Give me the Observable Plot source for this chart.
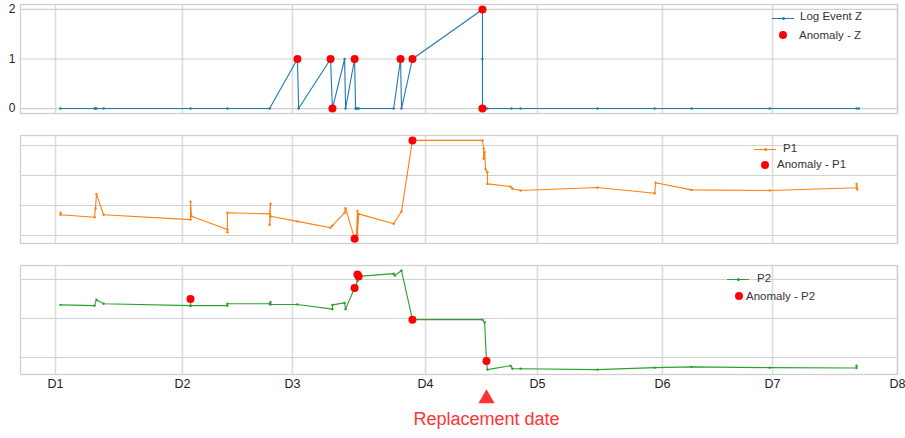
<!DOCTYPE html>
<html><head><meta charset="utf-8">
<script src="https://cdn.jsdelivr.net/npm/d3@7"></script>
<script src="https://cdn.jsdelivr.net/npm/@observablehq/plot@0.6"></script>
<style>
body{margin:0;background:#fff;font-family:"Liberation Sans",Arial,sans-serif;}
#wrap{position:relative;width:905px;height:438px;}
#wrap svg{display:block}
.lg{position:absolute;font-size:11.5px;color:#333;white-space:nowrap;line-height:12px;}
.sw{position:absolute;height:1.3px;}
.sw i{position:absolute;left:50%;top:-1px;width:3px;height:3px;margin-left:-1.5px;border-radius:50%;}
.ad{position:absolute;width:8px;height:8px;border-radius:50%;background:red;}
</style></head><body><div id="wrap"></div>
<script>
// x positions are in "days" from D1
const tickT = [0, 4.06, 7.58, 11.84, 15.42, 19.42, 22.94, 26.94];
const tickLabels = ["D1","D2","D3","D4","D5","D6","D7","D8"];
const replacementT = 13.79;

// Log Event Z
const zT = [0.16,1.25,1.28,1.31,1.54,4.32,5.50,6.85,7.74,7.78,8.80,8.86,9.25,9.28,9.57,9.60,9.63,9.66,9.70,10.82,11.04,11.07,11.42,13.66,13.66,13.66,13.82,14.59,14.88,17.34,19.17,20.35,22.85,25.63,25.70];
const zV = [0,0,0,0,0,0,0,0,1,0,1,0,1,0,1,0,0,0,0,0,1,0,1,2,1,0,0,0,0,0,0,0,0,0,0];
const zAnomT = [7.74,8.80,8.86,9.57,11.04,11.42,13.66,13.66];
const zAnomV = [1,1,0,1,1,1,2,0];

// P1
const p1T = [0.16,0.16,1.25,1.28,1.31,1.54,4.32,4.32,4.35,5.50,5.50,5.50,6.85,6.88,6.85,6.88,7.74,8.80,8.86,9.25,9.28,9.57,9.63,9.66,9.66,9.70,10.82,11.07,11.42,13.66,13.70,13.70,13.73,13.76,13.82,13.82,14.56,14.62,14.88,17.34,19.17,19.20,20.35,22.85,25.63,25.63,25.66];
const p1V = [7.6,6.9,6.1,9.1,13.8,6.9,5.3,11.3,6.4,2.0,1.1,7.6,7.2,10.6,3.6,6.4,4.7,2.6,3.3,7.6,9.1,-1.1,0.2,8.2,0.3,7.2,3.9,8.0,31.7,31.7,28.9,25.6,27.8,22.0,21.1,17.2,16.3,15.6,15.0,16.0,14.1,17.6,15.2,15.0,15.9,17.2,15.3];
const p1AnomT = [9.57,11.42];
const p1AnomV = [-1.1,31.7];

// P2
const p2T = [0.16,1.25,1.31,1.54,4.32,4.32,4.32,5.50,5.50,6.85,6.88,6.88,7.74,8.86,8.86,9.25,9.28,9.57,9.66,9.66,9.70,10.82,10.86,11.07,11.42,13.66,13.73,13.79,13.82,14.56,14.62,14.88,17.34,19.17,20.35,22.85,25.63,25.63];
const p2V = [13.5,13.3,14.8,13.8,13.3,14.6,13.3,13.3,13.8,13.8,14.2,13.6,13.6,12.4,13.5,14.0,12.4,17.8,19.6,21.3,20.8,21.5,21.0,22.3,9.7,9.7,9.0,-0.9,-3.1,-2.1,-2.9,-2.9,-3.1,-2.6,-2.4,-2.6,-2.7,-2.1];
const p2AnomT = [4.32,9.57,9.66,9.70,11.42,13.79];
const p2AnomV = [15.0,17.8,21.3,20.8,9.7,-0.9];

const zip = (t, v) => t.map((d, i) => ({t: d, v: v[i]}));

const panels = [
  {height:120, mt:4, mb:7, dom:[-0.1,2.1], grid:[0,1,2], labels:true, s:zip(zT,zV), a:zip(zAnomT,zAnomV), color:"#1f77b4", xAxis:false,
   name:"Log Event Z", anom:"Anomaly - Z", lg:{sw:[772,17.5], tx:[800,10], dot:[783,35], atx:[799,29]}},
  {height:130, mt:15, mb:7, dom:[-2.67,33.33], grid:[0,10,20,30], labels:false, s:zip(p1T,p1V), a:zip(p1AnomT,p1AnomV), color:"#ff7f0e", xAxis:false,
   name:"P1", anom:"Anomaly - P1", lg:{sw:[754,149], tx:[783,142], dot:[765,165], atx:[777,158]}},
  {height:188, mt:15, mb:64, dom:[-4.36,23.59], grid:[0,10,20], labels:false, s:zip(p2T,p2V), a:zip(p2AnomT,p2AnomV), color:"#2ca02c", xAxis:true,
   name:"P2", anom:"Anomaly - P2", lg:{sw:[727,279], tx:[757,272], dot:[739,296], atx:[746,290]}}
];

const wrap = document.getElementById("wrap");
for (const p of panels) {
  const marks = [
    Plot.gridX({ticks: tickT, stroke:"#dcdcdc", strokeOpacity:1, strokeWidth:1.6}),
    Plot.gridY({ticks: p.grid, stroke:"#d0d0d0", strokeOpacity:1, strokeWidth:1.2}),
    Plot.frame({stroke:"#cfcfcf", strokeWidth:1.3}),
    Plot.line(p.s, {x:"t", y:"v", stroke:p.color, strokeWidth:1.1}),
    Plot.dot(p.s, {x:"t", y:"v", r:1.2, fill:p.color}),
    Plot.dot(p.a, {x:"t", y:"v", r:4, fill:"red"})
  ];
  if (p.labels) marks.push(Plot.axisY({ticks:p.grid, tickSize:0, tickPadding:5, fontSize:12, label:null, tickFormat: d3.format("d")}));
  if (p.xAxis) {
    marks.push(Plot.axisX({ticks:tickT, tickSize:0, tickPadding:5, fontSize:12.5, label:null, tickFormat: d => tickLabels[tickT.indexOf(d)]}));
    marks.push(Plot.dot([replacementT], {x: d => d, frameAnchor:"bottom", dy:24, symbol:"triangle", r:6, fill:"#ff3333"}));
    marks.push(Plot.text([replacementT], {x: d => d, text: () => "Replacement date", frameAnchor:"bottom", dy:50, fontSize:18, fill:"#ff3333"}));
  }
  const svg = Plot.plot({
    width:905, height:p.height, marginLeft:20, marginRight:8, marginTop:p.mt, marginBottom:p.mb,
    style:{fontFamily:"'Liberation Sans', Arial, sans-serif", color:"#222", background:"#fff", overflow:"visible"},
    x:{domain:[-1.12, 26.94], axis:null, label:null},
    y:{domain:p.dom, axis:null, label:null},
    marks
  });
  wrap.appendChild(svg);
  // legend
  const sw = document.createElement("div");
  sw.className = "sw"; sw.style.left = (p.lg.sw[0]) + "px"; sw.style.top = (p.lg.sw[1]) + "px";
  sw.style.width = "22px"; sw.style.background = p.color;
  sw.innerHTML = `<i style="background:${p.color}"></i>`;
  wrap.appendChild(sw);
  const t1 = document.createElement("div");
  t1.className = "lg"; t1.style.left = p.lg.tx[0] + "px"; t1.style.top = p.lg.tx[1] + "px"; t1.textContent = p.name;
  wrap.appendChild(t1);
  const ad = document.createElement("div");
  ad.className = "ad"; ad.style.left = (p.lg.dot[0]-4) + "px"; ad.style.top = (p.lg.dot[1]-4) + "px";
  wrap.appendChild(ad);
  const t2 = document.createElement("div");
  t2.className = "lg"; t2.style.left = p.lg.atx[0] + "px"; t2.style.top = p.lg.atx[1] + "px"; t2.textContent = p.anom;
  wrap.appendChild(t2);
}
</script></body></html>
